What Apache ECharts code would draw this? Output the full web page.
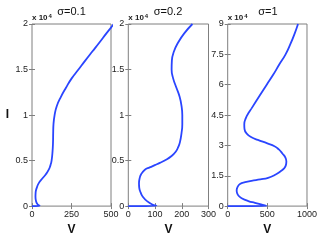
<!DOCTYPE html>
<html><head><meta charset="utf-8">
<script src="https://cdn.jsdelivr.net/npm/echarts@6/dist/echarts.min.js"></script>
<style>html,body{margin:0;padding:0;background:#fff}#c{width:320px;height:241px}</style>
</head><body><div id="c"></div>
<script>
// Panel data (V, I)
var titles = ['σ=0.1', 'σ=0.2', 'σ=1'];
var V1 = [0, 48, 35, 26, 22, 23, 30, 42, 64, 88, 106, 117, 124, 130, 133, 134, 136, 143, 157, 183, 215, 250, 294, 338, 383, 428, 472, 500, 518];
var I1 = [0, 40, 200, 500, 1000, 1500, 2000, 2500, 3000, 3500, 4000, 4500, 5000, 6000, 7000, 8000, 9000, 10000, 11000, 12000, 13000, 14000, 15000, 16000, 17000, 18000, 19000, 19600, 20000];
var V2 = [0, 105, 88, 72, 55, 46, 41, 40, 42, 48, 62, 80, 99, 118, 136, 162, 178, 187, 193, 199, 202, 202, 199, 192, 180, 168, 162, 163, 171, 187, 210, 240];
var I2 = [0, 50, 200, 500, 1000, 1500, 2000, 2500, 3000, 3500, 4000, 4250, 4500, 4750, 5000, 5500, 6000, 6500, 7000, 8000, 9000, 10000, 11000, 12000, 13000, 14000, 15000, 16000, 17000, 18000, 19000, 20000];
var V3 = [0, 490, 420, 343, 260, 176, 140, 118, 113, 125, 155, 220, 300, 410, 510, 600, 665, 708, 732, 740, 728, 690, 645, 590, 500, 380, 300, 240, 212, 209, 230, 262, 301, 402, 492, 575, 650, 730, 790, 842, 887];
var I3 = [0, 100, 800, 1600, 2500, 3900, 5000, 6500, 7800, 9500, 10900, 11800, 12500, 13200, 14000, 15500, 17100, 18500, 20000, 22000, 24000, 26000, 28000, 29600, 31000, 32700, 34000, 35800, 38000, 40500, 43600, 46000, 48300, 54500, 60000, 65000, 70000, 75000, 80000, 85000, 90000];
var xMax = [500, 300, 1000], xInt = [250, 100, 500];
var yMax = [20000, 20000, 90000], yInt = [5000, 5000, 15000];
var Vs = [V1, V2, V3], Is = [I1, I2, I3];

var grids = [
  {left: 32, width: 79, top: 24, bottom: 24.5},
  {left: 128.3, width: 80.2, top: 24, bottom: 24.5},
  {left: 227.7, width: 80.5, top: 24, bottom: 24.5}
];
var FONT = 'Liberation Sans';
var frame = '#7f7f7f';
var opt = {animation: false, grid: [], xAxis: [], yAxis: [], series: [], title: []};
var titleX = [71.5, 168, 268], expX = [32, 128.3, 227.7];
for (var k = 0; k < 3; k++) {
  opt.grid.push(Object.assign({show: true, borderColor: frame, borderWidth: 1, backgroundColor: '#fff'}, grids[k]));
  var tick = {show: true, inside: true, length: 3, lineStyle: {color: frame}};
  opt.xAxis.push({type: 'value', gridIndex: k, min: 0, max: xMax[k], interval: xInt[k],
    axisLine: {show: false}, axisTick: tick, splitLine: {show: false},
    axisLabel: {color: '#222', fontSize: 9, fontFamily: FONT, margin: 4, formatter: function (v) { return String(v); }},
    name: 'V', nameLocation: 'middle', nameGap: 12,
    nameTextStyle: {color: '#111', fontSize: 12, fontWeight: 'bold', fontFamily: FONT}});
  opt.xAxis.push({type: 'value', gridIndex: k, position: 'top', min: 0, max: xMax[k], interval: xInt[k],
    axisLine: {show: false}, axisTick: tick, splitLine: {show: false}, axisLabel: {show: false}});
  var ya = {type: 'value', gridIndex: k, min: 0, max: yMax[k], interval: yInt[k],
    axisLine: {show: false}, axisTick: tick, splitLine: {show: false},
    axisLabel: {color: '#222', fontSize: 9, fontFamily: FONT, margin: 4,
      formatter: function (v) { return String(+(v / 10000).toFixed(2)); }}};
  if (k === 0) {
    ya.name = 'I'; ya.nameLocation = 'middle'; ya.nameGap = 23; ya.nameRotate = 0;
    ya.nameTextStyle = {color: '#111', fontSize: 12, fontWeight: 'bold', fontFamily: FONT};
  }
  opt.yAxis.push(ya);
  opt.yAxis.push({type: 'value', gridIndex: k, position: 'right', min: 0, max: yMax[k], interval: yInt[k],
    axisLine: {show: false}, axisTick: tick, splitLine: {show: false}, axisLabel: {show: false}});
  var d = [];
  for (var i = 0; i < Vs[k].length; i++) d.push([Vs[k][i], Is[k][i]]);
  opt.series.push({type: 'line', xAxisIndex: 2 * k, yAxisIndex: 2 * k, data: d, smooth: 0.5,
    showSymbol: false, clip: true, lineStyle: {color: '#2a45ff', width: 1.8}});
  opt.title.push({text: titles[k], left: titleX[k], top: 6, textAlign: 'center', padding: 0,
    textStyle: {fontSize: 11, fontWeight: 'normal', color: '#111', fontFamily: FONT}});
  opt.title.push({text: '{a|x 10}{b|4}', left: expX[k], top: 13, padding: 0,
    textStyle: {rich: {a: {fontSize: 8, color: '#222', fontFamily: FONT},
      b: {fontSize: 6, color: '#222', fontFamily: FONT, verticalAlign: 'top', padding: [0, 0, 4, 1]}}}});
}
var ch = echarts.init(document.getElementById('c'), null, {renderer: 'canvas'});
ch.setOption(opt);
</script></body></html>
